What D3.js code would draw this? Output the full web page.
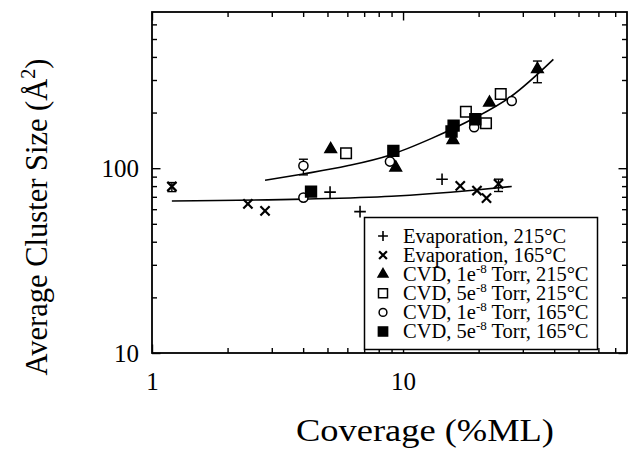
<!DOCTYPE html>
<html>
<head>
<meta charset="utf-8">
<script src="https://cdn.jsdelivr.net/npm/d3@7"></script>
<style>
  html, body { margin: 0; padding: 0; background: #fff; }
  svg { display: block; font-family: "Liberation Serif", "Times New Roman", serif; }
</style>
</head>
<body>
<div id="chart"></div>
<script>
// data: [coverage %ML, cluster size A^2]
const evap215 = [[5.12, 74.2], [6.74, 58.2], [14.3, 87.2]];
const evap165 = [[1.2, 79.6], [2.41, 64.1], [2.82, 58.8], [16.9, 80.2], [19.7, 75.7], [21.5, 68.9], [24.0, 82.2]];
const cvd1e8_215 = [[5.15, 126.7], [9.35, 100.7], [15.8, 142], [22.1, 226], [34.3, 343]];
const cvd5e8_215 = [[5.93, 120.5], [17.8, 202], [21.4, 175], [24.5, 252]];
const cvd1e8_165 = [[4.01, 103], [4.01, 69.3], [8.87, 108.6], [19.2, 166.6], [27.1, 231]];
const cvd5e8_165 = [[4.3, 74.7], [9.15, 124], [15.9, 170], [15.6, 158], [19.4, 184]];

// error bars: [x, low, high]
const errorBars = [[1.2, 74.7, 83.6], [24.0, 74.8, 87.2], [4.01, 92.0, 111.8], [34.3, 290, 380]];

// fitted curves
const fitLow = [[1.2, 66.5], [4, 68], [9, 70.5], [19, 76], [27.1, 79.6]];
const fitHigh = [[2.82, 86], [4, 93], [6, 103], [8.9, 118], [13, 145], [19, 185], [27, 245], [39.7, 388]];

const xMajor = [1, 10];
const xMinor = [2, 3, 4, 5, 6, 7, 8, 9, 20, 30, 40, 50, 60, 70];
const yMajor = [10, 100];
const yMinor = [20, 30, 40, 50, 60, 70, 80, 90, 200, 300, 400, 500, 600];

const legendItems = [
  { key: 'plus', pre: 'Evaporation, 215°C', sup: '', post: '' },
  { key: 'cross', pre: 'Evaporation, 165°C', sup: '', post: '' },
  { key: 'triFill', pre: 'CVD, 1e', sup: '-8', post: ' Torr, 215°C' },
  { key: 'sqOpen', pre: 'CVD, 5e', sup: '-8', post: ' Torr, 215°C' },
  { key: 'circOpen', pre: 'CVD, 1e', sup: '-8', post: ' Torr, 165°C' },
  { key: 'sqFill', pre: 'CVD, 5e', sup: '-8', post: ' Torr, 165°C' },
];

const W = 630, H = 452;
const frame = { left: 152, right: 627, top: 12, bottom: 353 };

const svg = d3.select('#chart').append('svg').attr('width', W).attr('height', H);

const x = d3.scaleLog().domain([1, 78]).range([frame.left, frame.right]);
const y = d3.scaleLog().domain([10, 700]).range([frame.bottom, frame.top]);

/*
* marker - returns a path string for a given marker key at scale s
*/
function marker(key, s) {
  const k = s || 1;
  if (key === 'plus') {
    const r = 5.8 * k;
    return `M${-r},0H${r}M0,${-r}V${r}`;
  }
  if (key === 'cross') {
    const r = 4.6 * k;
    return `M${-r},${-r}L${r},${r}M${-r},${r}L${r},${-r}`;
  }
  if (key === 'triFill') return d3.symbol(d3.symbolTriangle, 58 * k * k)();
  if (key === 'sqOpen') return d3.symbol(d3.symbolSquare, 112 * k * k)();
  if (key === 'sqFill') return d3.symbol(d3.symbolSquare, 118 * k * k)();
  return d3.symbol(d3.symbolCircle, 66 * k * k)();
}

function markerStyle(sel, key) {
  const filled = key === 'triFill' || key === 'sqFill';
  const lined = key === 'plus' || key === 'cross';
  sel.attr('fill', filled ? '#000' : (lined ? 'none' : '#fff'))
    .attr('stroke', '#000')
    .attr('stroke-width', key === 'cross' ? 2.2 : (lined ? 1.6 : 1.5));
}

// axes
const font = '"Liberation Serif", "Times New Roman", serif';
function styleAxis(g, majors) {
  g.select('.domain').remove();
  g.selectAll('.tick line').attr('stroke', '#000').attr('stroke-width', 1.4);
  g.selectAll('.tick text').attr('font-family', font).attr('font-size', 25).attr('fill', '#000');
  g.selectAll('.tick').filter((d) => majors.includes(d)).select('line').each(function () {
    const l = d3.select(this);
    if (l.attr('x2') !== null && +l.attr('x2') !== 0) l.attr('x2', +l.attr('x2') * 1.7);
    if (l.attr('y2') !== null && +l.attr('y2') !== 0) l.attr('y2', +l.attr('y2') * 1.7);
  });
}
const allX = xMajor.concat(xMinor);
const allY = yMajor.concat(yMinor);
const fmt = (majors) => (d) => (majors.includes(d) ? d : '');

svg.append('g').attr('transform', `translate(0,${frame.bottom})`)
  .call(d3.axisBottom(x).tickValues(allX).tickSize(-5).tickPadding(19).tickFormat(fmt(xMajor)))
  .call((g) => styleAxis(g, xMajor));
svg.append('g').attr('transform', `translate(0,${frame.top})`)
  .call(d3.axisTop(x).tickValues(allX).tickSize(-5).tickFormat(''))
  .call((g) => styleAxis(g, xMajor));
svg.append('g').attr('transform', `translate(${frame.left},0)`)
  .call(d3.axisLeft(y).tickValues(allY).tickSize(-5).tickPadding(13).tickFormat(fmt(yMajor)))
  .call((g) => styleAxis(g, yMajor));
svg.append('g').attr('transform', `translate(${frame.right},0)`)
  .call(d3.axisRight(y).tickValues(allY).tickSize(-5).tickFormat(''))
  .call((g) => styleAxis(g, yMajor));

svg.append('rect')
  .attr('x', frame.left).attr('y', frame.top)
  .attr('width', frame.right - frame.left).attr('height', frame.bottom - frame.top)
  .attr('fill', 'none').attr('stroke', '#000').attr('stroke-width', 1.8);

// axis titles
svg.append('text')
  .attr('x', 425).attr('y', 441)
  .attr('text-anchor', 'middle')
  .attr('font-size', 31).attr('textLength', 258).attr('lengthAdjust', 'spacingAndGlyphs')
  .text('Coverage  (%ML)');

const yTitle = svg.append('text')
  .attr('transform', 'translate(47,217) rotate(-90)')
  .attr('text-anchor', 'middle')
  .attr('font-size', 30.5);
yTitle.append('tspan').text('Average Cluster Size (Å');
yTitle.append('tspan').attr('font-size', 20).attr('dy', -12).text('2');
yTitle.append('tspan').attr('dy', 12).text(')');

// fit curves
const line = d3.line().x((d) => x(d[0])).y((d) => y(d[1])).curve(d3.curveMonotoneX);
svg.append('g').selectAll('path').data([fitLow, fitHigh]).join('path')
  .attr('d', line).attr('fill', 'none').attr('stroke', '#000').attr('stroke-width', 1.6);

// error bars
const eb = svg.append('g').attr('stroke', '#000').attr('stroke-width', 1.4);
errorBars.forEach((d) => {
  eb.append('line').attr('x1', x(d[0])).attr('x2', x(d[0])).attr('y1', y(d[1])).attr('y2', y(d[2]));
  [d[1], d[2]].forEach((v) => {
    eb.append('line').attr('x1', x(d[0]) - 4.5).attr('x2', x(d[0]) + 4.5).attr('y1', y(v)).attr('y2', y(v));
  });
});

// markers
const series = [
  ['plus', evap215], ['cross', evap165], ['triFill', cvd1e8_215],
  ['sqOpen', cvd5e8_215], ['circOpen', cvd1e8_165], ['sqFill', cvd5e8_165],
];
series.forEach(([key, data]) => {
  svg.append('g').selectAll('path').data(data).join('path')
    .attr('transform', (d) => `translate(${x(d[0])},${y(d[1])})`)
    .attr('d', marker(key))
    .call(markerStyle, key);
});

// legend
const legend = svg.append('g');
legend.append('rect')
  .attr('x', 364.5).attr('y', 217.5).attr('width', 233).attr('height', 132)
  .attr('fill', '#fff').attr('stroke', '#000').attr('stroke-width', 1.5);
legendItems.forEach((item, i) => {
  const cy = 236 + i * 19.1;
  legend.append('path')
    .attr('transform', `translate(383,${cy})`)
    .attr('d', marker(item.key, 0.85))
    .call(markerStyle, item.key);
  const t = legend.append('text').attr('x', 403).attr('y', cy + 6.5).attr('font-size', 20.5);
  t.append('tspan').text(item.pre);
  if (item.sup) {
    t.append('tspan').attr('font-size', 13).attr('dy', -8).text(item.sup);
    t.append('tspan').attr('dy', 8).text(item.post);
  }
});
</script>
</body>
</html>
